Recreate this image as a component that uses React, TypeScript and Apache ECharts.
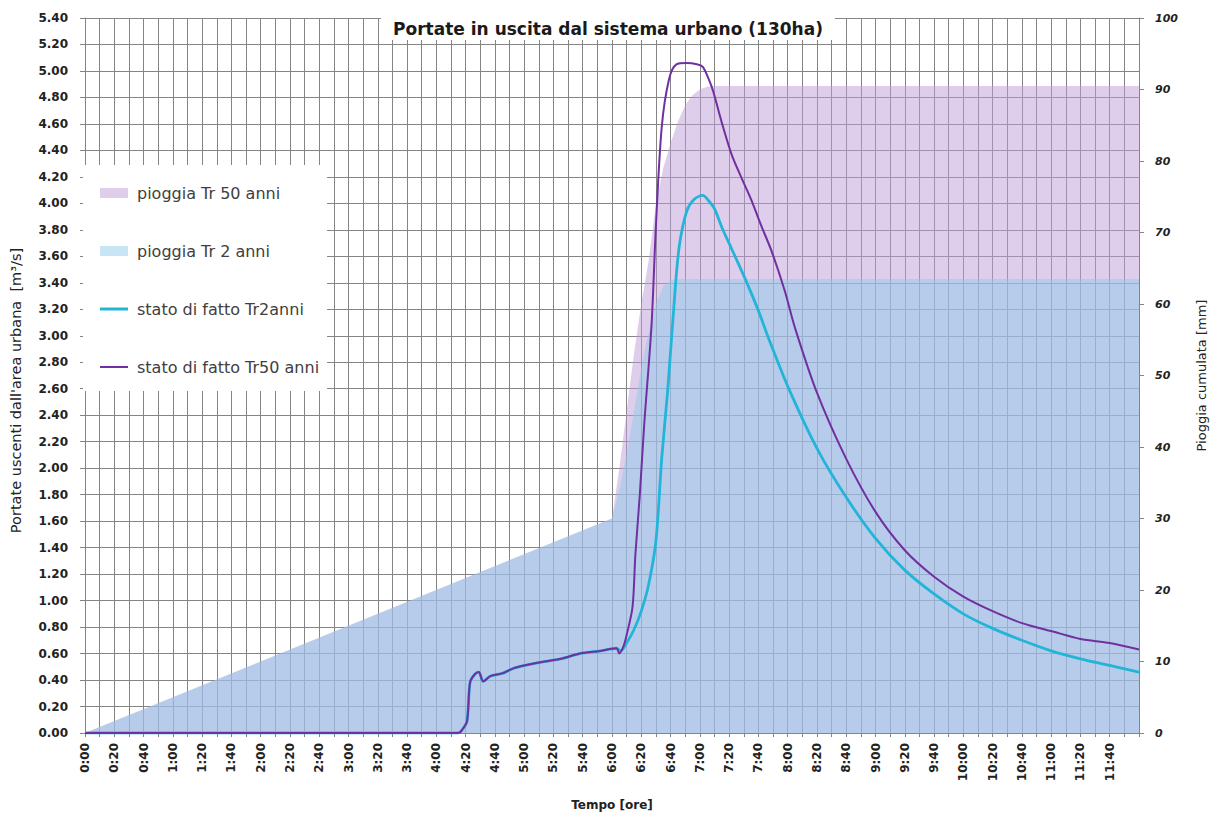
import React, { useEffect, useRef } from 'react';
import * as echarts from 'echarts';

// ---- data (time in minutes from 0:00) ----
const timeRainTr50 = [0, 360, 365, 370, 375, 380, 385, 390, 395, 400, 405, 410, 415, 420, 425, 430, 720];
const rainTr50 = [0, 30, 37, 45, 53, 60, 66, 74, 79, 82.5, 85.5, 87.8, 89.2, 90, 90.4, 90.5, 90.5];

const timeRainTr2 = [0, 360, 365, 370, 375, 380, 385, 390, 395, 400, 405, 720];
const rainTr2 = [0, 30, 34, 39, 45, 51, 56, 60, 62.5, 63.3, 63.5, 63.5];

const timeQTr2 = [0, 255, 258, 261, 263, 266, 269, 272, 277, 285, 293, 309, 325, 338, 352, 363, 366, 370, 375, 380, 385, 390, 394, 398, 403, 406, 411, 416, 422, 426, 430, 435, 442, 451, 460, 467, 480, 500, 520, 540, 560, 580, 600, 620, 640, 660, 680, 700, 720];
const qTr2 = [0, 0, 0.03, 0.09, 0.38, 0.44, 0.46, 0.39, 0.43, 0.45, 0.49, 0.53, 0.56, 0.6, 0.62, 0.64, 0.62, 0.68, 0.78, 0.92, 1.12, 1.45, 2.08, 2.58, 3.33, 3.68, 3.94, 4.03, 4.06, 4.02, 3.96, 3.82, 3.65, 3.43, 3.19, 2.98, 2.62, 2.15, 1.78, 1.47, 1.23, 1.05, 0.9, 0.79, 0.7, 0.62, 0.56, 0.51, 0.46];

const timeQTr50 = [0, 255, 258, 261, 263, 266, 269, 272, 277, 285, 293, 309, 325, 338, 352, 363, 365, 368, 370, 374, 376, 379, 382, 387, 390, 394, 399, 404, 411, 418, 422, 426, 429, 435, 442, 449, 455, 462, 469, 478, 485, 500, 520, 540, 560, 580, 600, 620, 640, 660, 680, 700, 720];
const qTr50 = [0, 0, 0.03, 0.09, 0.38, 0.44, 0.46, 0.39, 0.43, 0.45, 0.49, 0.53, 0.56, 0.6, 0.62, 0.64, 0.6, 0.66, 0.74, 0.95, 1.35, 1.8, 2.33, 3.08, 3.83, 4.58, 4.94, 5.05, 5.06, 5.05, 5.03, 4.94, 4.85, 4.61, 4.36, 4.18, 4.03, 3.83, 3.64, 3.34, 3.06, 2.57, 2.07, 1.67, 1.38, 1.18, 1.03, 0.92, 0.83, 0.77, 0.71, 0.68, 0.63];

const seriesNames = ['pioggia Tr 50 anni', 'pioggia Tr 2 anni', 'stato di fatto Tr2anni', 'stato di fatto Tr50 anni'];

const zip = (xs: number[], ys: number[]) => xs.map((x, i) => [x, ys[i]]);
const fmtTime = (v: number) => {
  const h = Math.floor(v / 60);
  const m = Math.round(v % 60);
  return `${h}:${m < 10 ? '0' + m : m}`;
};

const FONT = '"DejaVu Sans", "Open Sans", sans-serif';
const GRID = '#858585';
const COL_TR50_RAIN = 'rgba(189,155,215,0.5)';
const COL_TR2_RAIN = 'rgba(143,204,235,0.5)';
const COL_Q_TR2 = '#22b5d8';
const COL_Q_TR50 = '#7030a0';

export default function App() {
  const ref = useRef<HTMLDivElement>(null);
  useEffect(() => {
    if (!ref.current) return;
    const chart = echarts.init(ref.current, undefined, { renderer: 'svg' });
    chart.setOption({
      animation: false,
      backgroundColor: '#fff',
      textStyle: { fontFamily: FONT },
      title: {
        text: 'Portate in uscita dal sistema urbano (130ha)',
        left: 'center',
        top: 17,
        padding: [3, 12],
        backgroundColor: '#fff',
        textStyle: { fontSize: 17, fontWeight: 'bold', color: '#1a1a1a', fontFamily: FONT },
      },
      legend: {
        orient: 'vertical',
        left: 83,
        top: 165,
        backgroundColor: '#fff',
        padding: [20, 8, 16, 17],
        itemGap: 42,
        itemWidth: 28,
        itemHeight: 10,
        textStyle: { fontSize: 16, color: '#404040', fontFamily: FONT, padding: [0, 0, 0, 4] },
        data: [
          { name: seriesNames[0], icon: 'rect' },
          { name: seriesNames[1], icon: 'rect' },
          { name: seriesNames[2], icon: 'path://M0,0H28V3H0Z' },
          { name: seriesNames[3], icon: 'path://M0,0H28V2H0Z' },
        ],
      },
      grid: { left: 82, right: 73, top: 18, bottom: 79, containLabel: false },
      xAxis: {
        type: 'value',
        min: 0,
        max: 720,
        interval: 10,
        name: 'Tempo [ore]',
        nameLocation: 'middle',
        nameGap: 66,
        nameTextStyle: { fontSize: 12, fontWeight: 'bold', color: '#222', fontFamily: FONT },
        axisLine: { show: true, lineStyle: { color: GRID } },
        axisTick: { show: true, length: 4, lineStyle: { color: GRID } },
        splitLine: { show: true, lineStyle: { color: GRID, width: 1 } },
        axisLabel: {
          rotate: 90,
          fontSize: 12,
          fontWeight: 'bold',
          color: '#222',
          margin: 10,
          formatter: (v: number) => (v % 20 === 0 && v < 720 ? fmtTime(v) : ''),
        },
      },
      yAxis: [
        {
          type: 'value',
          min: 0,
          max: 5.4,
          interval: 0.2,
          name: "Portate uscenti dall'area urbana  [m³/s]",
          nameLocation: 'middle',
          nameRotate: 90,
          nameGap: 62,
          nameTextStyle: { fontSize: 14.5, color: '#222', fontFamily: FONT, padding: [0, 30, 0, 0] },
          axisLine: { show: true, lineStyle: { color: GRID } },
          axisTick: { show: true, length: 5, lineStyle: { color: GRID } },
          splitLine: { show: true, lineStyle: { color: GRID, width: 1 } },
          axisLabel: {
            fontSize: 12,
            fontWeight: 'bold',
            color: '#222',
            margin: 17,
            formatter: (v: number) => Number(v).toFixed(2),
          },
        },
        {
          type: 'value',
          min: 0,
          max: 100,
          interval: 10,
          position: 'right',
          name: 'Pioggia cumulata [mm]',
          nameLocation: 'middle',
          nameRotate: 90,
          nameGap: 56,
          nameTextStyle: { fontSize: 13, color: '#222', fontFamily: FONT },
          axisLine: { show: true, lineStyle: { color: GRID } },
          axisTick: { show: true, length: 5, lineStyle: { color: GRID } },
          splitLine: { show: false },
          axisLabel: {
            fontSize: 11,
            fontStyle: 'italic',
            fontWeight: 'bold',
            color: '#222',
            margin: 16,
          },
        },
      ],
      series: [
        {
          name: seriesNames[0],
          type: 'line',
          yAxisIndex: 1,
          data: zip(timeRainTr50, rainTr50),
          symbol: 'none',
          showSymbol: false,
          color: COL_TR50_RAIN,
          lineStyle: { width: 0 },
          areaStyle: { color: COL_TR50_RAIN, opacity: 1 },
          z: 1,
        },
        {
          name: seriesNames[1],
          type: 'line',
          yAxisIndex: 1,
          data: zip(timeRainTr2, rainTr2),
          symbol: 'none',
          showSymbol: false,
          color: COL_TR2_RAIN,
          lineStyle: { width: 0 },
          areaStyle: { color: COL_TR2_RAIN, opacity: 1 },
          z: 1,
        },
        {
          name: seriesNames[2],
          type: 'line',
          yAxisIndex: 0,
          data: zip(timeQTr2, qTr2),
          symbol: 'none',
          showSymbol: false,
          smooth: 0.3,
          color: COL_Q_TR2,
          lineStyle: { width: 2.8, color: COL_Q_TR2 },
          z: 3,
        },
        {
          name: seriesNames[3],
          type: 'line',
          yAxisIndex: 0,
          data: zip(timeQTr50, qTr50),
          symbol: 'none',
          showSymbol: false,
          smooth: 0.3,
          color: COL_Q_TR50,
          lineStyle: { width: 2, color: COL_Q_TR50 },
          z: 4,
        },
      ],
    });
    return () => chart.dispose();
  }, []);
  return (
    <div
      ref={ref}
      style={{ position: 'fixed', left: 0, top: 0, width: 1216, height: 816, background: '#fff' }}
    />
  );
}
